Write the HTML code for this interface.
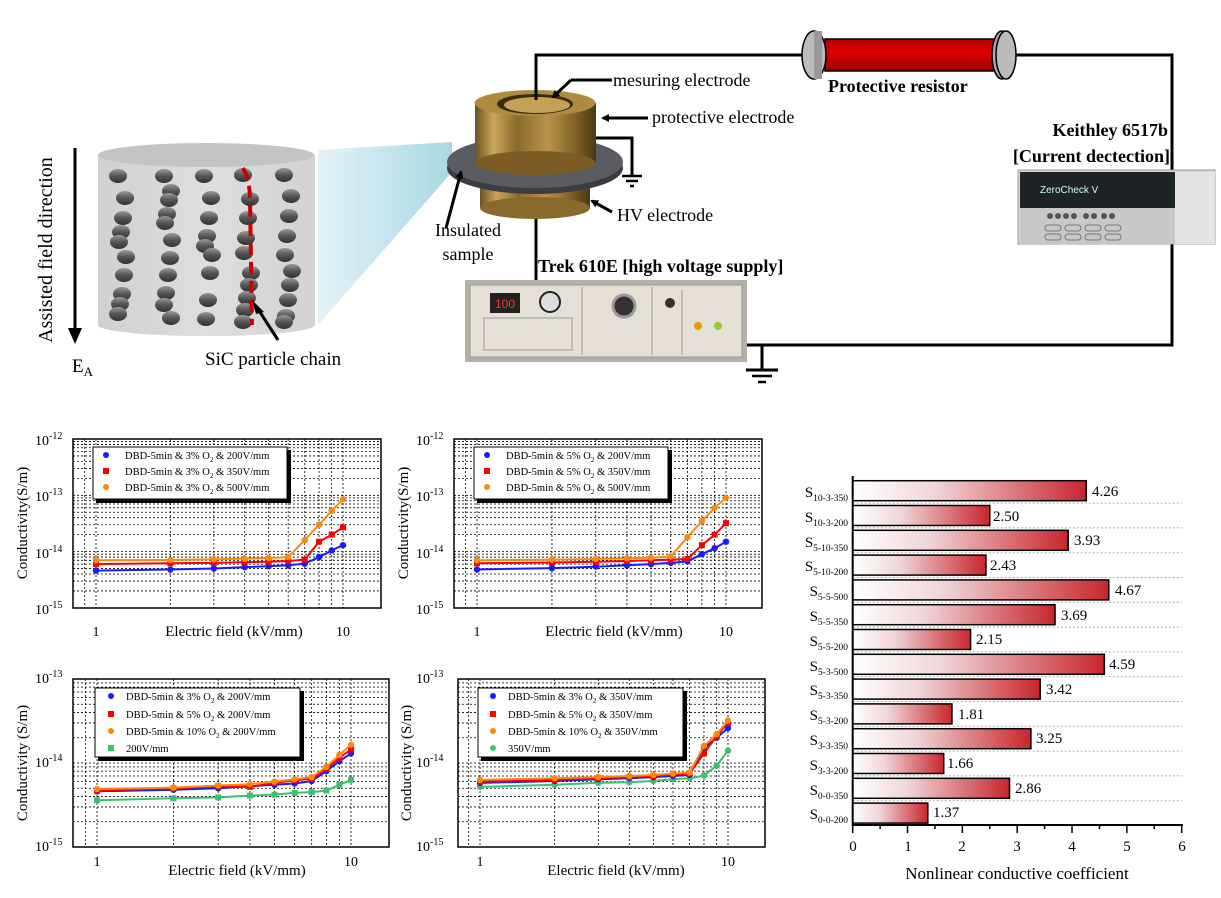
<!DOCTYPE html>
<html><head><meta charset="utf-8"><style>
body{margin:0;background:#fff;}
svg{display:block;font-family:"Liberation Serif",serif;}
</style></head><body>
<svg id="s" width="1221" height="898" viewBox="0 0 1221 898" xmlns="http://www.w3.org/2000/svg">
<defs>
<linearGradient id="bar" x1="0" x2="1" y1="0" y2="0"><stop offset="0" stop-color="#fff"/><stop offset="0.35" stop-color="#f0d6d8"/><stop offset="1" stop-color="#c8262c"/></linearGradient>
<linearGradient id="gold" x1="0" x2="1"><stop offset="0" stop-color="#6b5220"/><stop offset="0.15" stop-color="#c9a65a"/><stop offset="0.35" stop-color="#8a6a2c"/><stop offset="0.6" stop-color="#b8944a"/><stop offset="0.85" stop-color="#7a5c24"/><stop offset="1" stop-color="#4a3714"/></linearGradient>
<linearGradient id="blob" x1="0" x2="0" y1="0" y2="1"><stop offset="0" stop-color="#999"/><stop offset="0.5" stop-color="#555"/><stop offset="1" stop-color="#333"/></linearGradient>
<linearGradient id="cone" x1="1" x2="0"><stop offset="0" stop-color="#a8d8e4"/><stop offset="1" stop-color="#e3f3f7"/></linearGradient>
<linearGradient id="cyl" x1="0" x2="1"><stop offset="0" stop-color="#d0d0d0"/><stop offset="0.5" stop-color="#dedede"/><stop offset="1" stop-color="#d2d2d2"/></linearGradient>
<linearGradient id="res" x1="0" x2="0" y1="0" y2="1"><stop offset="0" stop-color="#a00"/><stop offset="0.4" stop-color="#d00"/><stop offset="1" stop-color="#900"/></linearGradient>
<marker id="ah" markerWidth="8" markerHeight="8" refX="6" refY="4" orient="auto" markerUnits="userSpaceOnUse"><path d="M0,0 L8,4 L0,8 z" fill="#000"/></marker>
</defs>

<polygon points="318,150 452,142 452,172 318,325" fill="url(#cone)"/>
<path d="M98,155 L98,325 A108,11 0 0 0 315,325 L315,155 Z" fill="url(#cyl)"/>
<ellipse cx="206" cy="155" rx="108" ry="12" fill="#c4c4c4"/>
<g id="blobs"></g>
<path d="M243,168 Q250,180 250,200 L252,325" stroke="#c00" stroke-width="4" fill="none" stroke-dasharray="12,7"/>
<line x1="75" y1="148" x2="75" y2="330" stroke="#000" stroke-width="3"/>
<path d="M68,328 L82,328 L75,344 z" fill="#000"/>
<text transform="translate(52,250) rotate(-90)" text-anchor="middle" font-size="20">Assisted field direction</text>
<text x="72" y="372" font-size="19">E<tspan font-size="13" dy="4">A</tspan></text>
<line x1="278" y1="340" x2="256" y2="306" stroke="#000" stroke-width="3"/>
<path d="M252,300 L264,312 L256,314 z" fill="#000"/>
<text x="205" y="365" font-size="19">SiC particle chain</text>

<polyline points="536,100 536,55 808,55" fill="none" stroke="#000" stroke-width="3"/>
<polyline points="1012,55 1172,55 1172,345 745,345" fill="none" stroke="#000" stroke-width="3"/>
<line x1="762" y1="345" x2="762" y2="370" stroke="#000" stroke-width="3"/>
<line x1="746" y1="370" x2="778" y2="370" stroke="#000" stroke-width="3"/>
<line x1="752" y1="376" x2="772" y2="376" stroke="#000" stroke-width="2.5"/>
<line x1="758" y1="382" x2="766" y2="382" stroke="#000" stroke-width="2.5"/>
<rect x="825" y="39" width="170" height="32" fill="url(#res)" stroke="#000" stroke-width="1.5"/>
<ellipse cx="814" cy="55" rx="12" ry="24" fill="#bbb" stroke="#000" stroke-width="1.5"/>
<rect x="814" y="31" width="8" height="48" fill="#999"/>
<ellipse cx="1002" cy="55" rx="10" ry="24" fill="#aaa" stroke="#000" stroke-width="1.5"/>
<ellipse cx="1006" cy="55" rx="10" ry="24" fill="#bbb" stroke="#000" stroke-width="1.5"/>
<text x="828" y="92" font-size="18" font-weight="bold">Protective resistor</text>

<line x1="536" y1="200" x2="536" y2="282" stroke="#000" stroke-width="3"/>
<rect x="480" y="165" width="110" height="43" fill="url(#gold)"/>
<ellipse cx="535" cy="208" rx="55" ry="11" fill="#8a6a2c"/>
<ellipse cx="535" cy="168" rx="88" ry="26" fill="#3a3c40"/>
<ellipse cx="535" cy="162" rx="88" ry="26" fill="#5a5c62"/>
<rect x="475" y="103" width="121" height="60" fill="url(#gold)"/>
<ellipse cx="535" cy="163" rx="60.5" ry="12" fill="#7a5c24"/>
<ellipse cx="535" cy="103" rx="60.5" ry="13" fill="#b08a40"/>
<ellipse cx="535" cy="104" rx="38" ry="10" fill="#3a2c10"/>
<ellipse cx="537" cy="105" rx="33" ry="8" fill="#c4a058"/>
<line x1="536" y1="55" x2="536" y2="100" stroke="#000" stroke-width="3"/>
<polyline points="596,138 632,138 632,175" fill="none" stroke="#000" stroke-width="3"/>
<line x1="622" y1="176" x2="642" y2="176" stroke="#000" stroke-width="2.5"/>
<line x1="626" y1="181" x2="638" y2="181" stroke="#000" stroke-width="2.5"/>
<line x1="630" y1="186" x2="634" y2="186" stroke="#000" stroke-width="2.5"/>
<line x1="612" y1="80" x2="571" y2="80" stroke="#000" stroke-width="3"/><line x1="571" y1="80" x2="553" y2="97" stroke="#000" stroke-width="3" marker-end="url(#ah)"/>
<text x="613" y="86" font-size="18">mesuring electrode</text>
<line x1="648" y1="118" x2="603" y2="118" stroke="#000" stroke-width="3" marker-end="url(#ah)"/>
<text x="652" y="123" font-size="18">protective electrode</text>
<line x1="612" y1="212" x2="592" y2="201" stroke="#000" stroke-width="3" marker-end="url(#ah)"/>
<text x="617" y="221" font-size="18">HV electrode</text>
<line x1="446" y1="228" x2="461" y2="172" stroke="#000" stroke-width="3" marker-end="url(#ah)"/>
<text x="468" y="236" font-size="18" text-anchor="middle">Insulated</text>
<text x="468" y="260" font-size="18" text-anchor="middle">sample</text>

<text x="538" y="272" font-size="18" font-weight="bold">Trek 610E [high voltage supply]</text>
<rect x="465" y="280" width="282" height="82" fill="#b5b0a6"/>
<rect x="470" y="285" width="272" height="72" fill="#e4e0d6" stroke="#999"/>
<rect x="490" y="293" width="30" height="20" fill="#222"/><text x="505" y="308" font-size="12" fill="#f33" text-anchor="middle" font-family="Liberation Sans,sans-serif">100</text>
<circle cx="550" cy="302" r="10" fill="#ddd" stroke="#222" stroke-width="2"/>
<line x1="582" y1="287" x2="582" y2="355" stroke="#999"/><line x1="652" y1="287" x2="652" y2="355" stroke="#999"/><line x1="682" y1="290" x2="682" y2="355" stroke="#999"/>
<circle cx="624" cy="306" r="11" fill="#333" stroke="#999" stroke-width="3"/>
<circle cx="670" cy="303" r="5" fill="#333"/>
<circle cx="698" cy="326" r="4" fill="#e90"/><circle cx="718" cy="326" r="4" fill="#9c3"/>
<rect x="484" y="318" width="88" height="32" fill="none" stroke="#999"/>

<text x="1168" y="136" font-size="18" font-weight="bold" text-anchor="end">Keithley 6517b</text>
<text x="1170" y="162" font-size="18" font-weight="bold" text-anchor="end">[Current dectection]</text>
<rect x="1018" y="170" width="197" height="74" fill="#d8d8d8" stroke="#999"/>
<rect x="1020" y="172" width="155" height="36" fill="#1e2426"/>
<text x="1040" y="193" font-size="10" fill="#cfe" font-family="Liberation Sans,sans-serif">ZeroCheck  V</text>
<rect x="1020" y="208" width="155" height="36" fill="#c8c8c8"/>
<rect x="1175" y="172" width="40" height="72" fill="#e4e4e4"/>
<g fill="#555"><circle cx="1050" cy="216" r="3"/><circle cx="1058" cy="216" r="3"/><circle cx="1066" cy="216" r="3"/><circle cx="1074" cy="216" r="3"/><circle cx="1086" cy="216" r="3"/><circle cx="1094" cy="216" r="3"/><circle cx="1104" cy="216" r="3"/><circle cx="1112" cy="216" r="3"/></g>
<g fill="none" stroke="#777"><rect x="1045" y="225" width="16" height="6" rx="3"/><rect x="1065" y="225" width="16" height="6" rx="3"/><rect x="1085" y="225" width="16" height="6" rx="3"/><rect x="1105" y="225" width="16" height="6" rx="3"/><rect x="1045" y="234" width="16" height="6" rx="3"/><rect x="1065" y="234" width="16" height="6" rx="3"/><rect x="1085" y="234" width="16" height="6" rx="3"/><rect x="1105" y="234" width="16" height="6" rx="3"/></g>

<g id="charts"></g>
<g font-size="14">
<text x="35" y="445">10<tspan font-size="10" dy="-6">-12</tspan></text>
<text x="35" y="501">10<tspan font-size="10" dy="-6">-13</tspan></text>
<text x="35" y="558">10<tspan font-size="10" dy="-6">-14</tspan></text>
<text x="35" y="614">10<tspan font-size="10" dy="-6">-15</tspan></text>
<text x="96" y="636" text-anchor="middle">1</text><text x="343" y="636" text-anchor="middle">10</text>
<text x="416" y="445">10<tspan font-size="10" dy="-6">-12</tspan></text>
<text x="416" y="501">10<tspan font-size="10" dy="-6">-13</tspan></text>
<text x="416" y="558">10<tspan font-size="10" dy="-6">-14</tspan></text>
<text x="416" y="614">10<tspan font-size="10" dy="-6">-15</tspan></text>
<text x="477" y="636" text-anchor="middle">1</text><text x="726" y="636" text-anchor="middle">10</text>
<text x="35" y="683">10<tspan font-size="10" dy="-6">-13</tspan></text>
<text x="35" y="767">10<tspan font-size="10" dy="-6">-14</tspan></text>
<text x="35" y="851">10<tspan font-size="10" dy="-6">-15</tspan></text>
<text x="97" y="866" text-anchor="middle">1</text><text x="351" y="866" text-anchor="middle">10</text>
<text x="416" y="683">10<tspan font-size="10" dy="-6">-13</tspan></text>
<text x="416" y="767">10<tspan font-size="10" dy="-6">-14</tspan></text>
<text x="416" y="851">10<tspan font-size="10" dy="-6">-15</tspan></text>
<text x="480" y="866" text-anchor="middle">1</text><text x="728" y="866" text-anchor="middle">10</text>
</g>
<g font-size="15">
<text transform="translate(27,523) rotate(-90)" text-anchor="middle">Conductivity(S/m)</text>
<text transform="translate(408,523) rotate(-90)" text-anchor="middle">Conductivity(S/m)</text>
<text transform="translate(27,763) rotate(-90)" text-anchor="middle">Conductivity (S/m)</text>
<text transform="translate(411,763) rotate(-90)" text-anchor="middle">Conductivity (S/m)</text>
<text x="234" y="636" text-anchor="middle">Electric field (kV/mm)</text>
<text x="614" y="636" text-anchor="middle">Electric field (kV/mm)</text>
<text x="237" y="875" text-anchor="middle">Electric field (kV/mm)</text>
<text x="616" y="875" text-anchor="middle">Electric field (kV/mm)</text>
</g>
<g font-size="10.5">
<rect x="96" y="450" width="195" height="53" fill="#000"/><rect x="93" y="447" width="194" height="52" fill="#fff" stroke="#000"/>
<circle cx="106" cy="455" r="3" fill="#1a1aff"/><text x="125" y="459">DBD-5min &amp; 3% O<tspan font-size="7" dy="3">2</tspan><tspan dy="-3"> &amp; 200V/mm</tspan></text>
<rect x="103" y="468" width="6" height="6" fill="#f00"/><text x="125" y="475">DBD-5min &amp; 3% O<tspan font-size="7" dy="3">2</tspan><tspan dy="-3"> &amp; 350V/mm</tspan></text>
<circle cx="106" cy="487" r="3" fill="#f80"/><text x="125" y="491">DBD-5min &amp; 3% O<tspan font-size="7" dy="3">2</tspan><tspan dy="-3"> &amp; 500V/mm</tspan></text>

<rect x="477" y="450" width="195" height="53" fill="#000"/><rect x="474" y="447" width="194" height="52" fill="#fff" stroke="#000"/>
<circle cx="487" cy="455" r="3" fill="#1a1aff"/><text x="506" y="459">DBD-5min &amp; 5% O<tspan font-size="7" dy="3">2</tspan><tspan dy="-3"> &amp; 200V/mm</tspan></text>
<rect x="484" y="468" width="6" height="6" fill="#f00"/><text x="506" y="475">DBD-5min &amp; 5% O<tspan font-size="7" dy="3">2</tspan><tspan dy="-3"> &amp; 350V/mm</tspan></text>
<circle cx="487" cy="487" r="3" fill="#f80"/><text x="506" y="491">DBD-5min &amp; 5% O<tspan font-size="7" dy="3">2</tspan><tspan dy="-3"> &amp; 500V/mm</tspan></text>

<rect x="98" y="691" width="206" height="70" fill="#000"/><rect x="95" y="688" width="205" height="69" fill="#fff" stroke="#000"/>
<circle cx="111" cy="696" r="3" fill="#1a1aff"/><text x="126" y="700">DBD-5min &amp; 3% O<tspan font-size="7" dy="3">2</tspan><tspan dy="-3"> &amp; 200V/mm</tspan></text>
<rect x="108" y="711" width="6" height="6" fill="#f00"/><text x="126" y="718">DBD-5min &amp; 5% O<tspan font-size="7" dy="3">2</tspan><tspan dy="-3"> &amp; 200V/mm</tspan></text>
<circle cx="111" cy="731" r="3" fill="#f80"/><text x="126" y="735">DBD-5min &amp; 10% O<tspan font-size="7" dy="3">2</tspan><tspan dy="-3"> &amp; 200V/mm</tspan></text>
<rect x="108" y="745" width="6" height="6" fill="#3c6"/><text x="126" y="752">200V/mm</text>

<rect x="481" y="691" width="206" height="70" fill="#000"/><rect x="478" y="688" width="205" height="69" fill="#fff" stroke="#000"/>
<circle cx="493" cy="696" r="3" fill="#1a1aff"/><text x="508" y="700">DBD-5min &amp; 3% O<tspan font-size="7" dy="3">2</tspan><tspan dy="-3"> &amp; 350V/mm</tspan></text>
<rect x="490" y="711" width="6" height="6" fill="#f00"/><text x="508" y="718">DBD-5min &amp; 5% O<tspan font-size="7" dy="3">2</tspan><tspan dy="-3"> &amp; 350V/mm</tspan></text>
<circle cx="493" cy="731" r="3" fill="#f80"/><text x="508" y="735">DBD-5min &amp; 10% O<tspan font-size="7" dy="3">2</tspan><tspan dy="-3"> &amp; 350V/mm</tspan></text>
<circle cx="493" cy="748" r="3" fill="#3c6"/><text x="508" y="752">350V/mm</text>
</g>

<g id="bars"></g>
<g font-size="15" text-anchor="end">
<text x="848" y="497">S<tspan font-size="9.5" dy="4">10-3-350</tspan></text>
<text x="848" y="522">S<tspan font-size="9.5" dy="4">10-3-200</tspan></text>
<text x="848" y="547">S<tspan font-size="9.5" dy="4">5-10-350</tspan></text>
<text x="848" y="571">S<tspan font-size="9.5" dy="4">5-10-200</tspan></text>
<text x="848" y="596">S<tspan font-size="9.5" dy="4">5-5-500</tspan></text>
<text x="848" y="621">S<tspan font-size="9.5" dy="4">5-5-350</tspan></text>
<text x="848" y="646">S<tspan font-size="9.5" dy="4">5-5-200</tspan></text>
<text x="848" y="671">S<tspan font-size="9.5" dy="4">5-3-500</tspan></text>
<text x="848" y="695">S<tspan font-size="9.5" dy="4">5-3-350</tspan></text>
<text x="848" y="720">S<tspan font-size="9.5" dy="4">5-3-200</tspan></text>
<text x="848" y="745">S<tspan font-size="9.5" dy="4">3-3-350</tspan></text>
<text x="848" y="770">S<tspan font-size="9.5" dy="4">3-3-200</tspan></text>
<text x="848" y="795">S<tspan font-size="9.5" dy="4">0-0-350</tspan></text>
<text x="848" y="819">S<tspan font-size="9.5" dy="4">0-0-200</tspan></text>
</g>
<g font-size="15" text-anchor="middle">
<text x="853" y="851">0</text><text x="908" y="851">1</text><text x="962" y="851">2</text><text x="1017" y="851">3</text><text x="1072" y="851">4</text><text x="1127" y="851">5</text><text x="1182" y="851">6</text>
<text x="1017" y="879" font-size="17">Nonlinear conductive coefficient</text>
</g>
<g font-size="15">
<text x="1092" y="496">4.26</text><text x="993" y="521">2.50</text><text x="1074" y="545">3.93</text><text x="990" y="570">2.43</text><text x="1115" y="595">4.67</text><text x="1061" y="620">3.69</text><text x="976" y="644">2.15</text><text x="1109" y="669">4.59</text><text x="1046" y="694">3.42</text><text x="958" y="719">1.81</text><text x="1036" y="743">3.25</text><text x="947" y="768">1.66</text><text x="1015" y="793">2.86</text><text x="933" y="817">1.37</text>
</g>
</svg>
<script>
var NS="http://www.w3.org/2000/svg";
function el(p,t,a){var e=document.createElementNS(NS,t);for(var k in a)e.setAttribute(k,a[k]);p.appendChild(e);return e;}
var bg=document.getElementById('blobs');
var cols=[[122,[176,198,218,232,242,257,275,294,304,314]],[168,[176,191,200,214,223,240,258,275,293,305,318]],[208,[176,198,218,236,246,255,273,300,319]],[247,[175,199,218,238,253,273,285,298,310,322]],[288,[175,196,216,236,255,271,285,300,316,322]]];
cols.forEach(function(c){c[1].forEach(function(y,i){el(bg,'ellipse',{cx:c[0]+((i*7)%9-4),cy:y,rx:9,ry:7,fill:'url(#blob)'});});});
var cg=document.getElementById('charts');
function chart(o){
 var g=el(cg,'g',{});
 var lx=function(E){return o.xa+(o.xb-o.xa)*Math.log10(E);};
 var ly=function(v){return o.y0+(o.topExp-Math.log10(v))*o.ppd;};
 el(g,'rect',{x:o.x0,y:o.y0,width:o.x1-o.x0,height:o.y1-o.y0,fill:'#fff'});
 [0.8,0.9,1,2,3,4,5,6,7,8,9,10].forEach(function(E){var x=lx(E);if(x>o.x0&&x<o.x1)el(g,'line',{x1:x,x2:x,y1:o.y0,y2:o.y1,stroke:'#000','stroke-width':0.8,'stroke-dasharray':'2,2'});});
 for(var d=0;d<o.dec;d++)for(var m=1;m<=9;m++){var y=o.y0+(d+1-Math.log10(m))*o.ppd;if(y<o.y1&&y>o.y0)el(g,'line',{x1:o.x0,x2:o.x1,y1:y,y2:y,stroke:'#000','stroke-width':0.8,'stroke-dasharray':'2,2'});}
 el(g,'rect',{x:o.x0,y:o.y0,width:o.x1-o.x0,height:o.y1-o.y0,fill:'none',stroke:'#000','stroke-width':1.5});
 o.series.forEach(function(s){
  var pts=s.v.map(function(v,i){return lx(i+1).toFixed(1)+','+ly(v).toFixed(1);});
  el(g,'polyline',{points:pts.join(' '),fill:'none',stroke:s.c,'stroke-width':2});
  s.v.forEach(function(v,i){var x=lx(i+1),y=ly(v);if(s.m=='s')el(g,'rect',{x:x-3,y:y-3,width:6,height:6,fill:s.c});else el(g,'circle',{cx:x,cy:y,r:3.2,fill:s.c});});
 });
}
var B='#1a1aff',R='#f00',O='#f88a10',G='#3cc070';
chart({x0:73,x1:381,y0:439,y1:608,xa:96,xb:343,topExp:-12,ppd:56.3,dec:3,series:[
 {c:B,m:'c',v:[4.6e-15,4.8e-15,5e-15,5.3e-15,5.5e-15,5.7e-15,6.1e-15,8e-15,1.05e-14,1.3e-14]},
 {c:R,m:'s',v:[6e-15,6.2e-15,6.3e-15,6.5e-15,6.6e-15,6.8e-15,7.2e-15,1.5e-14,2e-14,2.7e-14]},
 {c:O,m:'c',v:[7e-15,7.1e-15,7.3e-15,7.5e-15,7.7e-15,8e-15,1.6e-14,3e-14,5.3e-14,8.5e-14]}]});
chart({x0:454,x1:762,y0:439,y1:608,xa:477,xb:726,topExp:-12,ppd:56.3,dec:3,series:[
 {c:B,m:'c',v:[4.8e-15,5.1e-15,5.4e-15,5.7e-15,6e-15,6.3e-15,6.7e-15,9e-15,1.15e-14,1.5e-14]},
 {c:R,m:'s',v:[6.2e-15,6.4e-15,6.6e-15,6.8e-15,7e-15,7.2e-15,7.4e-15,1.3e-14,2e-14,3.2e-14]},
 {c:O,m:'c',v:[7e-15,7.2e-15,7.4e-15,7.6e-15,7.8e-15,8.2e-15,1.8e-14,3.5e-14,6e-14,9e-14]}]});
chart({x0:73,x1:389,y0:679,y1:847,xa:97,xb:351,topExp:-13,ppd:84,dec:2,series:[
 {c:G,m:'s',v:[3.6e-15,3.8e-15,3.9e-15,4.1e-15,4.2e-15,4.4e-15,4.5e-15,4.7e-15,5.5e-15,6.3e-15]},
 {c:B,m:'c',v:[4.6e-15,4.8e-15,5e-15,5.3e-15,5.5e-15,5.7e-15,6.1e-15,8e-15,1.05e-14,1.3e-14]},
 {c:R,m:'s',v:[4.7e-15,5e-15,5.3e-15,5.2e-15,5.8e-15,6.2e-15,6.5e-15,8.5e-15,1.15e-14,1.45e-14]},
 {c:O,m:'c',v:[4.9e-15,5.1e-15,5.4e-15,5.6e-15,6e-15,6.4e-15,6.8e-15,9e-15,1.25e-14,1.65e-14]}]});
chart({x0:458,x1:765,y0:679,y1:847,xa:480,xb:728,topExp:-13,ppd:84,dec:2,series:[
 {c:G,m:'c',v:[5.2e-15,5.5e-15,5.8e-15,5.9e-15,6.1e-15,6.4e-15,6.6e-15,7.1e-15,9.3e-15,1.4e-14]},
 {c:B,m:'c',v:[5.8e-15,6.1e-15,6.4e-15,6.6e-15,6.8e-15,7e-15,7.2e-15,1.5e-14,2e-14,2.6e-14]},
 {c:R,m:'s',v:[6e-15,6.3e-15,6.6e-15,6.8e-15,7e-15,7.3e-15,7.5e-15,1.3e-14,2.1e-14,3e-14]},
 {c:O,m:'c',v:[6.3e-15,6.6e-15,6.8e-15,7e-15,7.2e-15,7.5e-15,7.7e-15,1.6e-14,2.2e-14,3.2e-14]}]});
var bgp=document.getElementById('bars');
var vals=[4.26,2.50,3.93,2.43,4.67,3.69,2.15,4.59,3.42,1.81,3.25,1.66,2.86,1.37];
var X0=852.7,S=54.83;
vals.forEach(function(v,i){var y=480.7+i*24.8;
 el(bgp,'line',{x1:X0,x2:1182,y1:y+22.4,y2:y+22.4,stroke:'#aaa','stroke-dasharray':'2,2'});
 el(bgp,'rect',{x:X0,y:y,width:v*S,height:20,fill:'url(#bar)',stroke:'#000','stroke-width':1.5});});
el(bgp,'line',{x1:X0,x2:X0,y1:476,y2:826,stroke:'#000','stroke-width':2});
el(bgp,'line',{x1:X0,x2:1183,y1:825,y2:825,stroke:'#000','stroke-width':2});
for(var k=0;k<=12;k++){var x=X0+k*S/2;el(bgp,'line',{x1:x,x2:x,y1:825,y2:k%2?829:833,stroke:'#000','stroke-width':1.5});}
</script>
</body></html>
